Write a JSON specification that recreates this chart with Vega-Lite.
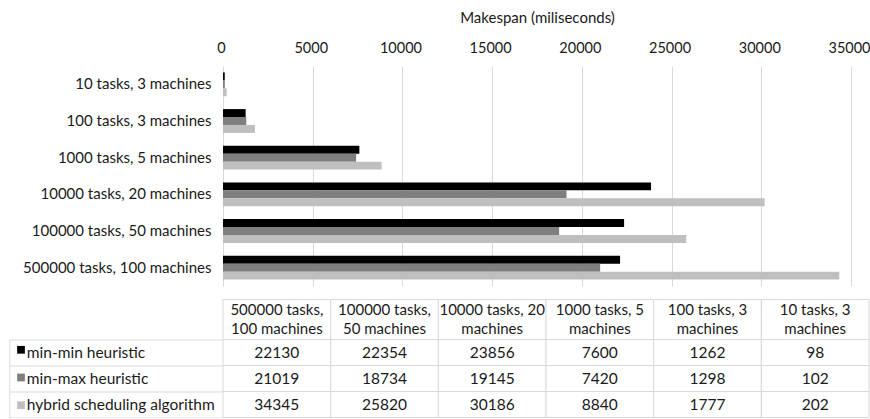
{
  "$schema": "https://vega.github.io/schema/vega-lite/v6.json",
  "padding": {"left": 8, "top": 10, "right": 0, "bottom": 0},
  "background": "white",
  "bounds": "flush",
  "spacing": 13.5,
  "datasets": {
    "perf": [
      {"task": "500000 tasks, 100 machines", "series": "min-min heuristic", "value": 22130},
      {"task": "500000 tasks, 100 machines", "series": "min-max heuristic", "value": 21019},
      {"task": "500000 tasks, 100 machines", "series": "hybrid scheduling algorithm", "value": 34345},
      {"task": "100000 tasks, 50 machines", "series": "min-min heuristic", "value": 22354},
      {"task": "100000 tasks, 50 machines", "series": "min-max heuristic", "value": 18734},
      {"task": "100000 tasks, 50 machines", "series": "hybrid scheduling algorithm", "value": 25820},
      {"task": "10000 tasks, 20 machines", "series": "min-min heuristic", "value": 23856},
      {"task": "10000 tasks, 20 machines", "series": "min-max heuristic", "value": 19145},
      {"task": "10000 tasks, 20 machines", "series": "hybrid scheduling algorithm", "value": 30186},
      {"task": "1000 tasks, 5 machines", "series": "min-min heuristic", "value": 7600},
      {"task": "1000 tasks, 5 machines", "series": "min-max heuristic", "value": 7420},
      {"task": "1000 tasks, 5 machines", "series": "hybrid scheduling algorithm", "value": 8840},
      {"task": "100 tasks, 3 machines", "series": "min-min heuristic", "value": 1262},
      {"task": "100 tasks, 3 machines", "series": "min-max heuristic", "value": 1298},
      {"task": "100 tasks, 3 machines", "series": "hybrid scheduling algorithm", "value": 1777},
      {"task": "10 tasks, 3 machines", "series": "min-min heuristic", "value": 98},
      {"task": "10 tasks, 3 machines", "series": "min-max heuristic", "value": 102},
      {"task": "10 tasks, 3 machines", "series": "hybrid scheduling algorithm", "value": 202}
    ],
    "heads": [
      {"task": "500000 tasks, 100 machines", "header": "500000 tasks,|100 machines"},
      {"task": "100000 tasks, 50 machines", "header": "100000 tasks,|50 machines"},
      {"task": "10000 tasks, 20 machines", "header": "10000 tasks, 20|machines"},
      {"task": "1000 tasks, 5 machines", "header": "1000 tasks, 5|machines"},
      {"task": "100 tasks, 3 machines", "header": "100 tasks, 3|machines"},
      {"task": "10 tasks, 3 machines", "header": "10 tasks, 3|machines"}
    ]
  },
  "vconcat": [
    {
      "width": 628,
      "height": 220,
      "data": {"name": "perf"},
      "mark": {"type": "bar"},
      "encoding": {
        "y": {
          "field": "task", "type": "nominal",
          "sort": ["10 tasks, 3 machines", "100 tasks, 3 machines", "1000 tasks, 5 machines", "10000 tasks, 20 machines", "100000 tasks, 50 machines", "500000 tasks, 100 machines"],
          "scale": {"paddingInner": 0.35, "paddingOuter": 0.175},
          "axis": {"title": null, "domain": false, "ticks": false, "labelPadding": 12, "labelFontSize": 15, "labelColor": "#1a1a1a", "labelLimit": 0}
        },
        "x": {
          "field": "value", "type": "quantitative",
          "scale": {"domain": [0, 35000], "nice": false},
          "axis": {
            "orient": "top", "values": [0, 5000, 10000, 15000, 20000, 25000, 30000, 35000], "format": "d",
            "title": "Makespan (miliseconds)", "titleFontSize": 15, "titleFontWeight": "normal", "titleColor": "#1a1a1a", "titlePadding": 15,
            "labelFontSize": 14.5, "labelPadding": 11, "labelColor": "#1a1a1a", "labelFlush": false, "labelOffset": -2,
            "domain": false, "ticks": false, "tickSize": 0,
            "grid": true, "gridColor": "#d9d9d9", "gridWidth": 1
          }
        },
        "yOffset": {"field": "series", "type": "nominal", "sort": ["min-min heuristic", "min-max heuristic", "hybrid scheduling algorithm"]},
        "color": {
          "field": "series", "type": "nominal",
          "scale": {"domain": ["min-min heuristic", "min-max heuristic", "hybrid scheduling algorithm"], "range": ["#000000", "#7f7f7f", "#bfbfbf"]},
          "legend": {
            "orient": "none", "legendX": -207, "legendY": 278.8, "title": null, "direction": "vertical",
            "symbolType": "square", "symbolSize": 60, "symbolStrokeWidth": 0, "symbolOpacity": 1,
            "labelExpr": "''", "rowPadding": 17.7, "padding": 0, "offset": 0
          }
        }
      }
    },
    {
      "spacing": 0,
      "bounds": "flush",
      "vconcat": [
        {
          "width": 646,
          "height": 40,
          "data": {"name": "heads"},
          "encoding": {
            "x": {
              "field": "task", "type": "nominal",
              "sort": ["500000 tasks, 100 machines", "100000 tasks, 50 machines", "10000 tasks, 20 machines", "1000 tasks, 5 machines", "100 tasks, 3 machines", "10 tasks, 3 machines"],
              "scale": {"paddingInner": 0, "paddingOuter": 0},
              "axis": null
            }
          },
          "layer": [
            {"mark": {"type": "rect", "fill": "white", "stroke": "#d9d9d9", "strokeWidth": 1}},
            {"mark": {"type": "text", "fontSize": 15, "lineBreak": "|", "lineHeight": 19, "dy": -9.5, "color": "#1a1a1a"}, "encoding": {"text": {"field": "header"}}}
          ]
        },
        {
          "width": 646,
          "height": 78,
          "data": {"name": "perf"},
          "encoding": {
            "x": {
              "field": "task", "type": "nominal",
              "sort": ["500000 tasks, 100 machines", "100000 tasks, 50 machines", "10000 tasks, 20 machines", "1000 tasks, 5 machines", "100 tasks, 3 machines", "10 tasks, 3 machines"],
              "scale": {"paddingInner": 0, "paddingOuter": 0},
              "axis": null
            },
            "y": {
              "field": "series", "type": "nominal",
              "sort": ["min-min heuristic", "min-max heuristic", "hybrid scheduling algorithm"],
              "scale": {"paddingInner": 0, "paddingOuter": 0},
              "axis": {
                "title": null, "offset": 213.7, "domain": true, "domainColor": "#d9d9d9", "domainWidth": 1,
                "ticks": true, "tickBand": "extent", "tickSize": -213.7, "tickColor": "#d9d9d9", "tickWidth": 1,
                "labelAlign": "left", "labelPadding": 196.7, "labelFontSize": 15.5, "labelColor": "#1a1a1a", "labelLimit": 0, "grid": false
              }
            }
          },
          "layer": [
            {"mark": {"type": "rect", "fill": "white", "stroke": "#d9d9d9", "strokeWidth": 1}},
            {"mark": {"type": "text", "fontSize": 15.5, "color": "#1a1a1a"}, "encoding": {"text": {"field": "value", "type": "quantitative", "format": "d"}}}
          ]
        }
      ]
    }
  ],
  "config": {
    "font": "Lato",
    "view": {"stroke": null},
    "axis": {"labelFont": "Lato", "titleFont": "Lato"},
    "legend": {"labelFont": "Lato"},
    "text": {"font": "Lato"}
  }
}
